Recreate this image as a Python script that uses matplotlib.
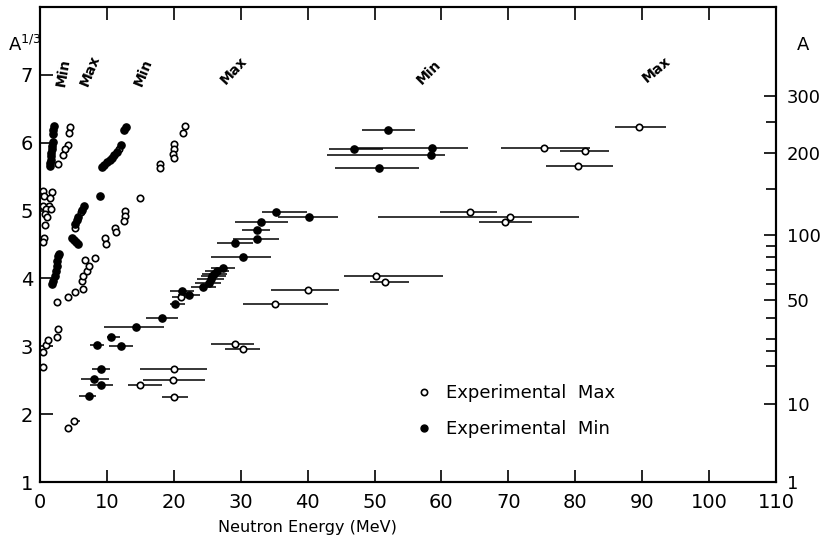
import numpy as np
import matplotlib
matplotlib.use("Agg")
import matplotlib.pyplot as plt
from matplotlib.lines import Line2D

# --- data: neutron energy (MeV) of cross-section maxima / minima vs A^(1/3)
# bar_lo / bar_hi are the ends of the horizontal energy-spread bars
# (equal to the energy itself where no bar is drawn)

max_energy = [4.5, 4.3, 4.25, 3.75, 3.4, 2.65,
              0.5, 1.75, 0.6, 1.5, 0.5, 1.4, 0.9, 1.6, 0.75, 1.0, 0.75, 0.6, 0.4,
              9.75, 9.9, 11.25, 11.4, 12.75, 12.75, 12.6, 15.0,
              17.9, 17.9, 20.0, 20.0, 19.9, 20.0, 21.6, 21.4,
              11.75, 6.2, 5.3,
              2.5, 4.25, 5.25, 6.5, 6.3, 6.4, 7.0, 7.25, 6.65, 8.25,
              0.5, 0.5, 0.9, 1.25, 2.6, 2.75,
              4.25, 5.15, 15.0, 20.1, 19.9, 20.1, 29.1, 30.4, 35.1, 40.1, 21.0,
              50.2, 51.5, 64.3, 70.3, 69.5, 75.3, 81.45, 80.45, 89.5]
max_a13 = [6.23, 6.15, 5.97, 5.90, 5.82, 5.69,
           5.29, 5.27, 5.21, 5.19, 5.07, 5.07, 5.02, 5.02, 4.95, 4.90, 4.78, 4.60, 4.53,
           4.59, 4.51, 4.75, 4.68, 5.00, 4.92, 4.85, 5.19,
           5.69, 5.62, 5.98, 5.91, 5.83, 5.77, 6.24, 6.15,
           5.90, 4.98, 4.75,
           3.65, 3.73, 3.80, 3.85, 3.96, 4.04, 4.11, 4.19, 4.27, 4.30,
           2.70, 2.92, 3.02, 3.09, 3.14, 3.26,
           1.80, 1.90, 2.43, 2.66, 2.50, 2.25, 3.04, 2.96, 3.63, 3.83, 3.72,
           4.04, 3.95, 4.98, 4.91, 4.83, 5.92, 5.88, 5.65, 6.23]
max_bar_lo = max_energy[:54] + [3.75, 4.75, 13.1, 15.0, 15.4, 18.3, 25.5, 27.6, 30.4, 34.6, 19.7,
                                45.5, 49.4, 59.8, 50.5, 65.6, 68.9, 77.7, 75.7, 85.9]
max_bar_hi = max_energy[:54] + [4.75, 6.0, 18.25, 25.0, 24.7, 22.1, 32.0, 32.9, 43.0, 44.7, 22.2,
                                60.2, 55.1, 68.3, 80.5, 73.5, 82.2, 85.0, 85.7, 93.6]

min_energy = [2.1, 2.0, 1.9,
              1.9, 1.85, 1.75, 1.7, 1.65, 1.6, 1.55, 1.5,
              6.6, 6.3, 5.7, 5.5, 5.3,
              4.8, 5.1, 5.4, 5.7, 8.9,
              9.25, 9.6, 10.0, 10.4, 10.75, 11.1, 11.5, 12.15, 12.5, 12.9,
              1.75, 2.0, 2.25, 2.4, 2.5, 2.6, 2.75, 2.9,
              7.25, 8.0, 9.1, 9.1, 8.5, 10.6, 12.1, 14.4, 18.25, 20.25,
              21.25, 22.25, 24.4, 25.2, 25.5, 25.75, 26.0, 26.4, 27.4,
              30.3, 29.2, 32.5, 32.4, 33.1, 35.3, 40.2,
              52.0, 47.0, 58.6, 58.4, 50.6]
min_a13 = [6.24, 6.18, 6.13,
           6.01, 5.95, 5.90, 5.85, 5.80, 5.75, 5.70, 5.65,
           5.06, 5.01, 4.91, 4.86, 4.80,
           4.60, 4.57, 4.53, 4.51, 5.21,
           5.64, 5.67, 5.71, 5.75, 5.78, 5.82, 5.86, 5.96, 6.18, 6.23,
           3.92, 3.96, 4.04, 4.11, 4.19, 4.26, 4.33, 4.36,
           2.27, 2.52, 2.43, 2.66, 3.02, 3.13, 3.00, 3.28, 3.41, 3.62,
           3.82, 3.75, 3.88, 3.94, 3.99, 4.03, 4.06, 4.11, 4.16,
           4.32, 4.52, 4.58, 4.72, 4.83, 4.98, 4.91,
           6.19, 5.91, 5.92, 5.82, 5.63]
min_bar_lo = min_energy[:39] + [5.9, 6.15, 7.4, 7.75, 7.5, 10.0, 10.35, 9.6, 15.85, 19.4,
                                19.5, 20.6, 22.5, 23.2, 23.5, 24.0, 24.2, 24.6, 25.6,
                                25.6, 26.4, 28.9, 30.2, 29.1, 33.2, 35.6,
                                48.2, 43.2, 46.7, 42.9, 44.1]
min_bar_hi = min_energy[:39] + [8.35, 10.25, 10.9, 10.5, 9.6, 11.9, 13.9, 18.5, 20.65, 21.6,
                                23.0, 23.9, 26.3, 27.0, 27.5, 27.8, 28.0, 28.2, 29.2,
                                34.6, 31.9, 35.7, 34.4, 37.0, 39.9, 44.6,
                                56.0, 51.2, 64.0, 60.5, 56.7]

# band labels along the top
band_labels = ["Min", "Max", "Min", "Max", "Min", "Max"]
band_energy = [3.45, 7.5, 15.4, 28.9, 58.2, 92.2]
band_a13 = [7.04, 7.06, 7.04, 7.06, 7.04, 7.08]
band_rot = [80, 68, 68, 47, 45, 40]

x_ticks = list(range(0, 111, 10))
left_ticks = [1, 2, 3, 4, 5, 6, 7]
right_major = [1, 10, 50, 100, 200, 300]
right_minor = [20, 25, 30, 40, 60, 70, 80, 90, 150, 250]


def spread(e, lo, hi):
    e = np.array(e)
    return [e - np.array(lo), np.array(hi) - e]


plt.rcParams['font.family'] = ['DejaVu Sans']

fig = plt.figure(figsize=(8.25, 5.46), dpi=100)
ax = fig.add_axes([0.0485, 0.1172, 0.892, 0.870])

ax.errorbar(max_energy, max_a13, xerr=spread(max_energy, max_bar_lo, max_bar_hi),
            fmt='o', ms=4.6, mfc='white', mec='black', mew=1.2,
            ecolor='black', elinewidth=1.1, capsize=0, zorder=3)
ax.errorbar(min_energy, min_a13, xerr=spread(min_energy, min_bar_lo, min_bar_hi),
            fmt='o', ms=5.2, mfc='black', mec='black', mew=1.0,
            ecolor='black', elinewidth=1.1, capsize=0, zorder=3)

for lab, e, a, r in zip(band_labels, band_energy, band_a13, band_rot):
    ax.text(e, a, lab, rotation=r, ha='center', va='center',
            fontsize=10, fontweight='bold', rotation_mode='anchor')

ax.set_xlim(0, 110)
ax.set_ylim(1, 8)
ax.set_xticks(x_ticks)
ax.set_xticklabels([str(t) for t in x_ticks])
ax.set_yticks(left_ticks)
ax.set_yticklabels([str(t) for t in left_ticks])
ax.tick_params(axis='both', direction='in', length=9, width=1.2,
               labelsize=14, top=True, right=False)
ax.tick_params(axis='x', pad=8)
ax.tick_params(axis='y', pad=5)
for s in ax.spines.values():
    s.set_linewidth(1.5)

ax.set_xlabel("Neutron Energy (MeV)", fontsize=11.5)
ax.xaxis.set_label_coords(0.364, -0.08)

# right-hand mass number scale
ax2 = ax.twinx()
ax2.set_ylim(1, 8)
ax2.set_yticks(np.cbrt(right_major))
ax2.set_yticklabels([str(a) for a in right_major])
ax2.set_yticks(np.cbrt(right_minor), minor=True)
ax2.tick_params(axis='y', which='major', direction='in', length=9, width=1.2,
                labelsize=13, pad=8)
ax2.tick_params(axis='y', which='minor', direction='in', length=7, width=1.2)
for s in ax2.spines.values():
    s.set_linewidth(1.5)

fig.text(0.030, 0.918, r"A$^{1/3}$", fontsize=13, ha='center', va='center')
fig.text(0.973, 0.918, "A", fontsize=13, ha='center', va='center')

handles = [Line2D([], [], ls='none', marker='o', ms=4.5, mfc='white', mec='black', mew=1.2),
           Line2D([], [], ls='none', marker='o', ms=5, mfc='black', mec='black')]
ax.legend(handles, ["Experimental  Max", "Experimental  Min"], frameon=False,
          loc='upper left', bbox_to_anchor=(0.51, 0.206), borderaxespad=0,
          borderpad=0, handlelength=1.0, handletextpad=0.7, labelspacing=1.0,
          fontsize=13)

fig.savefig("out.png", dpi=100)
